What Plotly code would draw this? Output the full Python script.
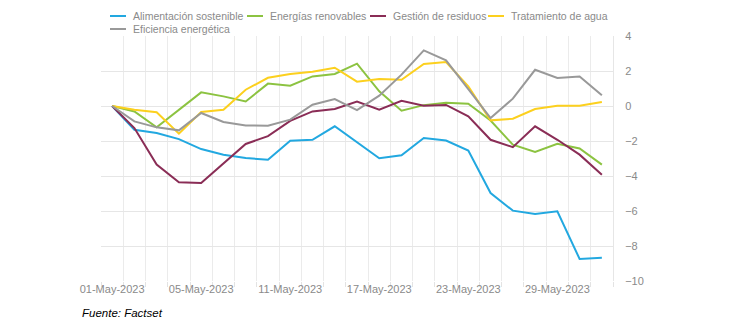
import plotly.graph_objects as go

dates = ["01-May-2023", "02-May-2023", "03-May-2023", "04-May-2023", "05-May-2023",
         "08-May-2023", "09-May-2023", "10-May-2023", "11-May-2023", "12-May-2023",
         "15-May-2023", "16-May-2023", "17-May-2023", "18-May-2023", "19-May-2023",
         "22-May-2023", "23-May-2023", "24-May-2023", "25-May-2023", "26-May-2023",
         "29-May-2023", "30-May-2023", "31-May-2023"]

alimentacion = [0, -1.36, -1.54, -1.89, -2.46, -2.78, -2.97, -3.07, -1.98, -1.93, -1.16, -2.08,
                -2.99, -2.82, -1.83, -1.97, -2.55, -4.97, -5.98, -6.17, -6.02, -8.74, -8.67]
energias = [0, -0.31, -1.22, -0.21, 0.78, 0.55, 0.26, 1.28, 1.16, 1.69, 1.83, 2.42,
            0.84, -0.27, 0.05, 0.18, 0.13, -0.83, -2.21, -2.62, -2.16, -2.43, -3.35]
residuos = [0, -1.26, -3.35, -4.36, -4.4, -3.26, -2.17, -1.72, -0.85, -0.31, -0.17, 0.26,
            -0.21, 0.3, 0.02, 0.06, -0.59, -1.93, -2.35, -1.16, -1.93, -2.78, -3.93]
agua = [0, -0.21, -0.36, -1.58, -0.34, -0.21, 0.93, 1.61, 1.83, 1.96, 2.19, 1.39,
        1.54, 1.5, 2.4, 2.51, 1.12, -0.82, -0.73, -0.17, 0.02, 0.02, 0.23]
eficiencia = [0, -0.88, -1.22, -1.39, -0.4, -0.91, -1.11, -1.13, -0.78, 0.07, 0.4, -0.24,
              0.59, 1.79, 3.18, 2.61, 0.97, -0.69, 0.42, 2.07, 1.6, 1.69, 0.61]

series_names = ["Alimentación sostenible", "Energías renovables", "Gestión de residuos",
                "Tratamiento de agua", "Eficiencia energética"]
series_values = [alimentacion, energias, residuos, agua, eficiencia]
series_colors = ["#22a8e0", "#8cc341", "#8a2d56", "#fcd01e", "#999999"]

label_dates = {"01-May-2023", "05-May-2023", "11-May-2023", "17-May-2023", "23-May-2023", "29-May-2023"}
y_ticks = [4, 2, 0, -2, -4, -6, -8, -10]

# layout geometry (pixels)
W, H = 735, 325
L, R, T, B = 101, 122, 36, 44
PW, PH = W - L - R, H - T - B


def px(xp):
    return (xp - L) / PW


def py(yp):
    return (H - B - yp) / PH


# legend placement (pixels): line start x, row y
legend_pos = [(110, 16), (247, 16), (370, 16), (488, 16), (110, 29)]

fig = go.Figure()
for name, vals, color in zip(series_names, series_values, series_colors):
    fig.add_trace(go.Scatter(x=dates, y=vals, name=name, mode="lines",
                             line=dict(color=color, width=2), showlegend=False))

shapes = []
annotations = []
for (lx, ly), name, color in zip(legend_pos, series_names, series_colors):
    shapes.append(dict(type="line", xref="paper", yref="paper",
                       x0=px(lx), x1=px(lx + 16), y0=py(ly), y1=py(ly),
                       line=dict(color=color, width=2)))
    annotations.append(dict(text=name, xref="paper", yref="paper",
                            x=px(lx + 21), y=py(ly), xanchor="left", yanchor="middle",
                            showarrow=False,
                            font=dict(size=10.5, color="#8a8a8a",
                                      family="Liberation Sans, Arial, sans-serif")))

annotations.append(dict(text="<i>Fuente: Factset</i>", xref="paper", yref="paper",
                        x=px(80), y=py(313), xanchor="left", yanchor="middle",
                        showarrow=False,
                        font=dict(size=11.5, color="#000000",
                                  family="Liberation Sans, Arial, sans-serif")))

fig.update_layout(
    width=W, height=H,
    margin=dict(l=L, r=R, t=T, b=B, autoexpand=False),
    paper_bgcolor="white", plot_bgcolor="white",
    font=dict(family="Liberation Sans, Arial, sans-serif", size=11, color="#888888"),
    showlegend=False,
    xaxis=dict(type="category", tickson="boundaries", showgrid=True,
               gridcolor="#ebebeb", gridwidth=1, tickangle=0,
               tickvals=dates, ticktext=[d if d in label_dates else "" for d in dates],
               ticks="outside", ticklen=5, tickcolor="#e3e3e3",
               tickfont=dict(size=11, color="#8a8a8a"), showline=False,
               range=[-0.5, len(dates) - 0.5]),
    yaxis=dict(side="right", range=[-10, 4], tickvals=y_ticks,
               showgrid=True, gridcolor="#e6e6e6", zeroline=False,
               showline=True, linecolor="#e6e6e6",
               ticks="outside", ticklen=9, tickcolor="rgba(0,0,0,0)",
               tickfont=dict(size=11, color="#8a8a8a")),
    shapes=shapes,
    annotations=annotations,
)

fig.write_html("out.html")
